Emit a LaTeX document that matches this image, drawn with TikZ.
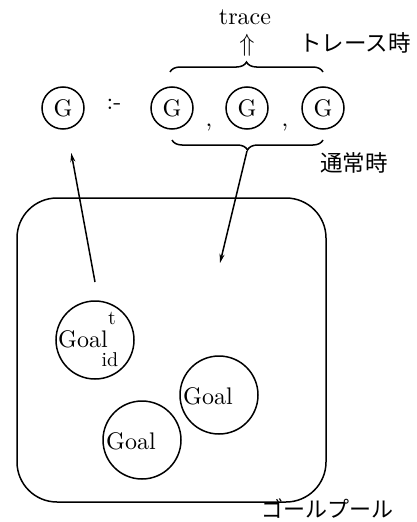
\documentclass[tikz,border=0pt]{standalone}
\usepackage{fontspec}
\setmainfont{lmroman10-regular.otf}
\newfontfamily\jp{Noto Sans CJK JP}
\usetikzlibrary{decorations.pathreplacing,arrows.meta}
\begin{document}
\begin{tikzpicture}[x=1pt,y=-1pt,
  every node/.style={font=\fontsize{24}{28}\selectfont},
  gcirc/.style={draw,circle,line width=1.5pt,minimum size=42pt,inner sep=0pt},
  goalc/.style={draw,circle,line width=1.5pt,minimum size=78pt,inner sep=0pt},
  jtext/.style={font=\jp\fontsize{22.5}{24}\selectfont},
  small/.style={font=\fontsize{20}{24}\selectfont,inner sep=0pt},
  arr/.style={line width=1.5pt,-{Stealth[length=9pt,width=5pt]}},
  br/.style={line width=1.5pt,decorate,decoration={brace,amplitude=10pt}}]
\useasboundingbox (0,0) rectangle (417,522);
% head and body
\node[gcirc] (g1) at (63,108) {G};
\node (neck) at (114,104) {:-};
\node[gcirc] (g2) at (172,108) {G};
\node[gcirc] (g3) at (247,108) {G};
\node[gcirc] (g4) at (323,108) {G};
\node[anchor=base,inner sep=0pt] (c1) at (209,126) {,};
\node[anchor=base,inner sep=0pt] (c2) at (285,126) {,};
% braces
\coordinate (tbl) at (170,72);
\coordinate (tbr) at (323,72);
\draw[br] (tbl) -- (tbr);
\coordinate (bbl) at (172,140);
\coordinate (bbr) at (323,140);
\draw[br,decoration={mirror}] (bbl) -- (bbr);
\coordinate (btip) at (247,151);
% trace label
\node (up) at (247,45) {$\Uparrow$};
\node[anchor=base,inner sep=0pt] (trace) at (245,24) {trace};
\node[jtext] (tr) at (355,43) {トレース時};
\node[jtext] (nm) at (354,163) {通常時};
% goal pool
\node[draw,line width=1.5pt,rounded corners=40pt,minimum width=309pt,minimum height=304pt,inner sep=0pt] (pool) at (171.5,350) {};
\node[jtext,font=\jp\fontsize{22}{24}\selectfont,anchor=south,inner sep=0pt] (poollbl) at (327,519) {ゴールプール};
\node[goalc] (gt) at (95,340) {};
\node[anchor=base,inner sep=0pt] (gtl) at (83,347) {Goal};
\node[small] (gtt) at (112,318) {t};
\node[small] (gtid) at (110,360) {id};
\node[goalc] (ga) at (219,395) {};
\node (gal) at (208,396) {Goal};
\node[goalc] (gb) at (142,440) {};
\node (gbl) at (131,441) {Goal};
% arrows
\coordinate (a1s) at (95,282);
\draw[arr,shorten >=24pt] (a1s) -- (g1);
\coordinate (a2e) at (220,263);
\draw[arr] (btip) -- (a2e);
\end{tikzpicture}
\end{document}
